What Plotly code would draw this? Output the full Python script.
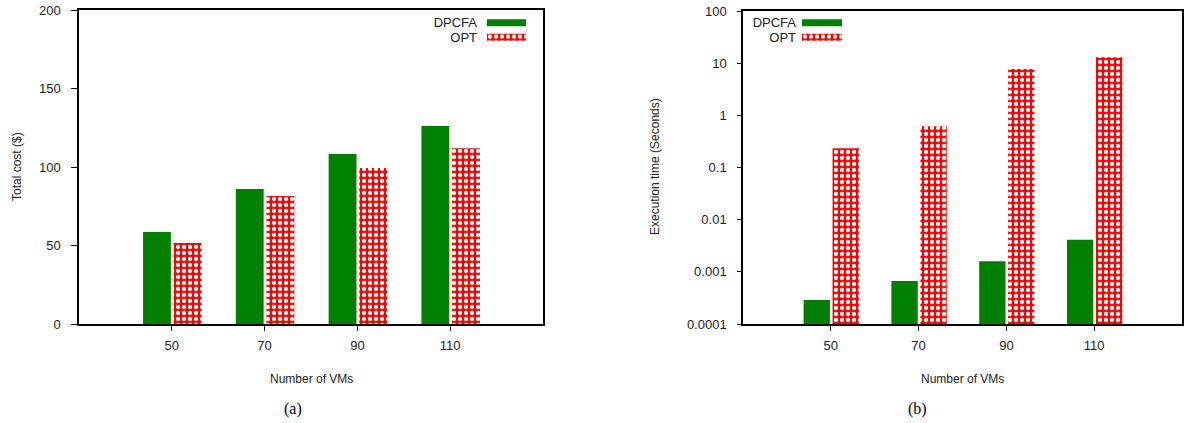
import plotly.graph_objects as go

# ---- data ----
vms = ["50", "70", "90", "110"]
series_names = ["DPCFA", "OPT"]
cost_dpcfa = [58.6, 86.0, 108.3, 126.1]
cost_opt = [51.6, 81.5, 99.4, 112.0]
time_dpcfa = [0.00029, 0.00067, 0.0016, 0.0041]
time_opt = [0.234, 0.62, 7.7, 13.0]
log_ticks = [0.0001, 0.001, 0.01, 0.1, 1, 10, 100]
log_ticktext = ["0.0001", "0.001", "0.01", "0.1", "1", "10", "100"]
legend_value = 1

W, H = 1185, 423
GREEN = "#008000"
RED = "#ff0000"
FONT = "Liberation Sans, Arial, sans-serif"
TXT = "#222222"

def px(x):
    return x / W

def py(y):
    return 1 - y / H

opt_pattern = dict(shape=".", fgcolor="white", bgcolor=RED, size=6, solidity=0.4,
                   fgopacity=1)
green_marker = dict(color=GREEN, line=dict(width=0))
opt_marker = dict(color=RED, pattern=opt_pattern, line=dict(width=0))

fig = go.Figure()

# left panel: total cost
fig.add_trace(go.Bar(x=vms, y=cost_dpcfa, width=0.3, offset=-0.31, marker=green_marker,
                     xaxis="x", yaxis="y", showlegend=False))
fig.add_trace(go.Bar(x=vms, y=cost_opt, width=0.3, offset=0.02, marker=opt_marker,
                     xaxis="x", yaxis="y", showlegend=False))
# right panel: execution time
fig.add_trace(go.Bar(x=vms, y=time_dpcfa, width=0.3, offset=-0.31, marker=green_marker,
                     xaxis="x2", yaxis="y2", showlegend=False))
fig.add_trace(go.Bar(x=vms, y=time_opt, width=0.3, offset=0.02, marker=opt_marker,
                     xaxis="x2", yaxis="y2", showlegend=False))

# legend keys drawn as tiny horizontal bar charts
for xa, ya in (("x3", "y3"), ("x4", "y4")):
    fig.add_trace(go.Bar(y=[series_names[0]], x=[legend_value], orientation="h", width=0.49,
                         marker=green_marker, xaxis=xa, yaxis=ya,
                         showlegend=False, hoverinfo="skip"))
    fig.add_trace(go.Bar(y=[series_names[1]], x=[legend_value], orientation="h", width=0.49,
                         marker=opt_marker, xaxis=xa, yaxis=ya,
                         showlegend=False, hoverinfo="skip"))

axis_common = dict(showline=True, linecolor="black", linewidth=1.5, mirror=True,
                   showgrid=False, zeroline=False, ticks="outside", tickcolor="black",
                   automargin=False, ticklabeloverflow="allow",
                   tickfont=dict(family=FONT, size=13, color=TXT))

legend_axis = dict(type="category", categoryorder="array", categoryarray=series_names,
                   range=[1.5, -0.5], tickmode="array", tickvals=series_names,
                   ticktext=series_names, showline=False, showgrid=False, zeroline=False,
                   ticks="", automargin=False,
                   tickfont=dict(family=FONT, size=13, color=TXT))

y_top, y_bot = 10, 324
fig.update_layout(
    width=W, height=H,
    margin=dict(l=0, r=0, t=0, b=0, autoexpand=False),
    paper_bgcolor="white", plot_bgcolor="white",
    barmode="overlay",
    xaxis=dict(domain=[px(79), px(543)], anchor="y", type="category", range=[-1, 4],
               ticklen=5, ticklabelstandoff=4, **axis_common),
    yaxis=dict(domain=[py(y_bot), py(y_top)], anchor="x", range=[0, 200], dtick=50,
               ticklen=6, ticklabelstandoff=8, **axis_common),
    xaxis2=dict(domain=[px(743), px(1182)], anchor="y2", type="category", range=[-1, 4],
                ticklen=5, ticklabelstandoff=4, **axis_common),
    yaxis2=dict(domain=[py(y_bot), py(y_top + 1)], anchor="x2", type="log", range=[-4, 2],
                tickvals=log_ticks, ticktext=log_ticktext,
                ticklen=4, ticklabelstandoff=8, **axis_common),
    xaxis3=dict(domain=[px(487), px(526)], anchor="y3", range=[0, 1], visible=False,
                automargin=False),
    yaxis3=dict(domain=[py(44.4), py(15.6)], anchor="x3", ticklabelstandoff=9, **legend_axis),
    xaxis4=dict(domain=[px(802), px(842)], anchor="y4", range=[0, 1], visible=False,
                automargin=False),
    yaxis4=dict(domain=[py(44.4), py(15.6)], anchor="x4", ticklabelstandoff=5, **legend_axis),
)

ann_font = dict(family=FONT, size=12, color=TXT)
annotations = [
    dict(text="Number of VMs", x=px(311), y=py(379), font=ann_font),
    dict(text="Number of VMs", x=px(962), y=py(379), font=ann_font),
    dict(text="Total cost ($)", x=px(17), y=py(167), textangle=-90, font=ann_font),
    dict(text="Execution time (Seconds)", x=px(655), y=py(167), textangle=-90, font=ann_font),
    dict(text="(a)", x=px(293), y=py(409),
         font=dict(family="Liberation Serif, Times New Roman, serif", size=16, color="black")),
    dict(text="(b)", x=px(917), y=py(409),
         font=dict(family="Liberation Serif, Times New Roman, serif", size=16, color="black")),
]
for a in annotations:
    fig.add_annotation(xref="paper", yref="paper", showarrow=False,
                       xanchor="center", yanchor="middle", **a)

fig.write_html("out.html", config={"displayModeBar": False},
               post_script="document.body.style.margin='0';document.body.style.overflow='hidden';")
